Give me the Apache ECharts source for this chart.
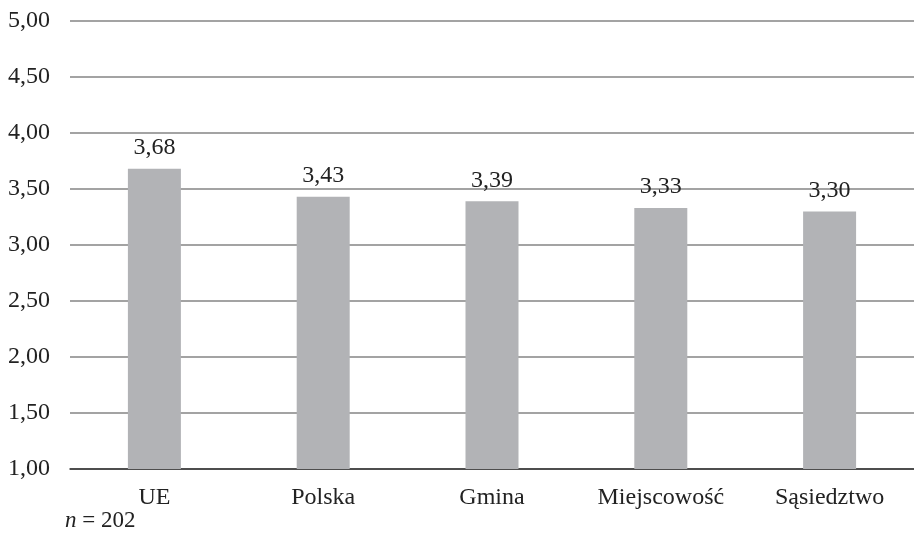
<!DOCTYPE html>
<html>
<head>
<meta charset="utf-8">
<script src="https://cdn.jsdelivr.net/npm/echarts@6/dist/echarts.min.js"></script>
<style>
    html, body { margin: 0; padding: 0; background: #fff; }
    #chart { width: 914px; height: 543px; }
</style>
</head>
<body>
<div id="chart"></div>
<script>
var categories = ['UE', 'Polska', 'Gmina', 'Miejscowość', 'Sąsiedztwo'];
var values = [3.68, 3.43, 3.39, 3.33, 3.30];
var yMin = 1, yMax = 5, yStep = 0.5;
var noteText = '{i|n} = 202';

var fontFam = '"Liberation Serif", "Times New Roman", serif';

function fmt(v) {
    return v.toFixed(2).replace('.', ',');
}

var myChart = echarts.init(document.getElementById('chart'));
var option = {
    backgroundColor: '#fff',
    animation: false,
    title: {
        text: noteText,
        left: 60,
        top: 504,
        textStyle: {
            fontFamily: fontFam,
            fontSize: 23,
            fontWeight: 'normal',
            color: '#222',
            rich: {
                i: { fontFamily: fontFam, fontSize: 23, fontStyle: 'italic', color: '#222' }
            }
        }
    },
    grid: {
        left: 70,
        top: 21,
        width: 851,
        height: 448
    },
    xAxis: {
        type: 'category',
        data: categories,
        axisLine: { show: true, lineStyle: { color: '#333', width: 1.5 } },
        axisTick: { show: false },
        axisLabel: {
            fontFamily: fontFam,
            fontSize: 24,
            color: '#222',
            margin: 17
        }
    },
    yAxis: {
        type: 'value',
        min: yMin,
        max: yMax,
        interval: yStep,
        axisLine: { show: false },
        axisTick: { show: false },
        axisLabel: {
            fontFamily: fontFam,
            fontSize: 24,
            color: '#222',
            margin: 20,
            formatter: function (v) { return fmt(v); }
        },
        splitLine: { lineStyle: { color: '#858585', width: 1.5 } }
    },
    series: [{
        type: 'bar',
        data: values,
        barWidth: 53,
        itemStyle: { color: '#b2b3b6' },
        label: {
            show: true,
            position: 'top',
            distance: 9,
            fontFamily: fontFam,
            fontSize: 24,
            color: '#222',
            formatter: function (p) { return fmt(p.value); }
        }
    }]
};
myChart.setOption(option);
</script>
</body>
</html>
